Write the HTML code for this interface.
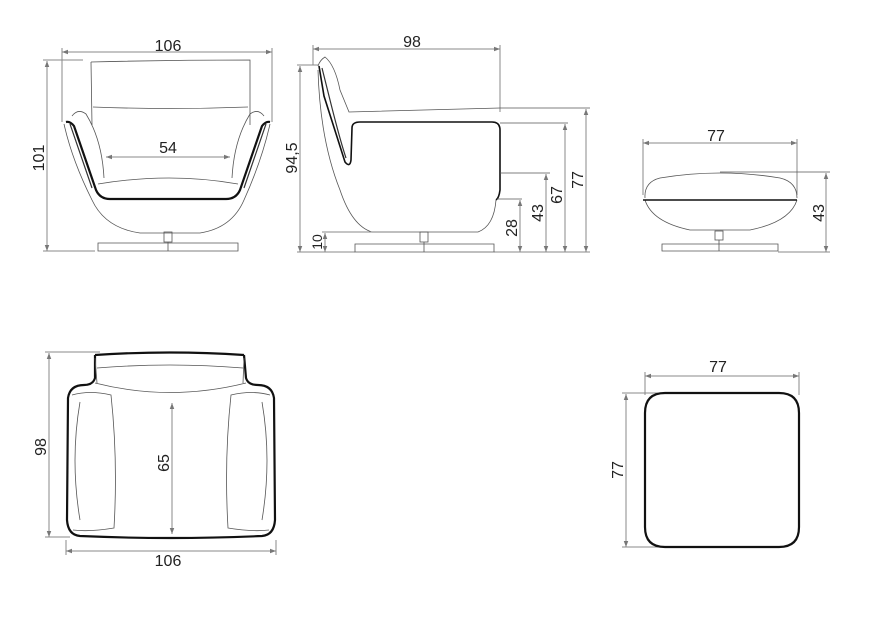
<!DOCTYPE html>
<html><head><meta charset="utf-8"><style>
html,body{margin:0;padding:0;background:#fff;}
svg{display:block;}
text{font-family:"Liberation Sans",sans-serif;font-size:16px;fill:#222;}
.d{stroke:#888;stroke-width:1;fill:none;}
.t{stroke:#555;stroke-width:0.8;fill:none;}
.k{stroke:#111;stroke-width:2.2;fill:none;}
.m{stroke:#333;stroke-width:1.2;fill:none;}
</style></head><body>
<svg width="879" height="630" viewBox="0 0 879 630" xmlns="http://www.w3.org/2000/svg">
<defs>
<marker id="a" viewBox="0 0 8 6" refX="8" refY="3" markerWidth="6" markerHeight="5" orient="auto-start-reverse"><path d="M0,0 L8,3 L0,6z" fill="#777"/></marker>
</defs>

<!-- FRONT VIEW -->
<line class="d" x1="62" y1="52" x2="272" y2="52" marker-start="url(#a)" marker-end="url(#a)"/>
<line class="d" x1="62" y1="48" x2="62" y2="122"/>
<line class="d" x1="272" y1="48" x2="272" y2="122"/>
<text x="168" y="51" text-anchor="middle">106</text>
<line class="d" x1="47" y1="61" x2="47" y2="251" marker-start="url(#a)" marker-end="url(#a)"/>
<line class="d" x1="43" y1="60" x2="83" y2="60"/>
<line class="d" x1="43" y1="251" x2="95" y2="251"/>
<text transform="translate(44,158) rotate(-90)" text-anchor="middle">101</text>
<path class="t" d="M91,62 Q170,60 250,60 L250,125 M91,62 L92,125"/>
<path class="t" d="M93,107 Q170,110 248,107"/>
<path class="t" d="M72,116 Q78,108 86,114 Q102,140 104,178"/>
<path class="t" d="M264,116 Q258,108 250,114 Q234,140 232,178"/>
<path class="t" d="M64,124 Q72,160 92,200 Q105,228 140,233 L200,233 Q232,228 244,200 Q262,160 270,124"/>
<path class="k" d="M66,122 Q70,121 74,126 L96,190 Q100,199 110,199 L226,199 Q236,199 240,190 L262,126 Q266,121 270,122"/>
<path class="m" d="M70,124 L92,188 M266,124 L244,188"/>
<path class="t" d="M98,184 Q170,172 238,184"/>
<line class="d" x1="106" y1="157" x2="230" y2="157" marker-start="url(#a)" marker-end="url(#a)"/>
<text x="168" y="153" text-anchor="middle">54</text>
<rect x="164" y="232" width="8" height="10" class="t"/>
<path class="t" d="M98,243 L238,243 L238,251 L98,251 Z M168,242 L168,251"/>

<!-- SIDE VIEW -->
<line class="d" x1="313" y1="49" x2="500" y2="49" marker-start="url(#a)" marker-end="url(#a)"/>
<line class="d" x1="313" y1="45" x2="313" y2="65"/>
<line class="d" x1="500" y1="45" x2="500" y2="112"/>
<text x="412" y="47" text-anchor="middle">98</text>
<line class="d" x1="300" y1="66" x2="300" y2="252" marker-start="url(#a)" marker-end="url(#a)"/>
<line class="d" x1="297" y1="65" x2="318" y2="65"/>
<line class="d" x1="297" y1="252" x2="355" y2="252"/>
<text transform="translate(297,158) rotate(-90)" text-anchor="middle">94,5</text>
<path class="t" d="M318,66 Q320,60 325,57 Q335,65 340,90 L349,112 Q425,110 500,108"/>
<path class="k" style="stroke-width:1.6" d="M319,66 L324,96 Q338,140 345,162 Q350,168 351,160 L352,128 Q352,122 360,122 L492,122 Q500,122 500,130 L500,190 Q499,198 496,200"/>
<path class="m" d="M322,68 L330,100 Q340,140 346,158"/>
<path class="t" d="M318,70 Q320,140 340,190 Q352,226 372,232 L478,232 Q494,226 496,200"/>
<line class="t" x1="500" y1="173" x2="550" y2="173"/>
<line class="t" x1="497" y1="199" x2="522" y2="199"/>
<line class="t" x1="500" y1="108" x2="590" y2="108"/>
<line class="t" x1="500" y1="123" x2="568" y2="123"/>
<line class="d" x1="586" y1="109" x2="586" y2="252" marker-start="url(#a)" marker-end="url(#a)"/>
<line class="d" x1="565" y1="124" x2="565" y2="252" marker-start="url(#a)" marker-end="url(#a)"/>
<line class="d" x1="546" y1="174" x2="546" y2="252" marker-start="url(#a)" marker-end="url(#a)"/>
<line class="d" x1="520" y1="200" x2="520" y2="252" marker-start="url(#a)" marker-end="url(#a)"/>
<line class="d" x1="494" y1="252" x2="590" y2="252"/>
<text transform="translate(583,180) rotate(-90)" text-anchor="middle">77</text>
<text transform="translate(562,195) rotate(-90)" text-anchor="middle">67</text>
<text transform="translate(543,213) rotate(-90)" text-anchor="middle">43</text>
<text transform="translate(517,228) rotate(-90)" text-anchor="middle">28</text>
<line class="d" x1="325" y1="233" x2="325" y2="252" marker-start="url(#a)" marker-end="url(#a)"/>
<line class="d" x1="322" y1="232" x2="372" y2="232"/>
<text transform="translate(322,242) rotate(-90)" text-anchor="middle" style="font-size:14px">10</text>
<rect x="420" y="232" width="8" height="10" class="t"/>
<path class="t" d="M355,244 L494,244 L494,252 L355,252 Z M424,242 L424,252"/>

<!-- OTTOMAN SIDE -->
<line class="d" x1="643" y1="143" x2="797" y2="143" marker-start="url(#a)" marker-end="url(#a)"/>
<line class="d" x1="643" y1="139" x2="643" y2="195"/>
<line class="d" x1="797" y1="139" x2="797" y2="195"/>
<text x="716" y="141" text-anchor="middle">77</text>
<path class="t" d="M645,198 Q644,182 660,178 Q720,168 780,178 Q797,182 797,198"/>
<path class="t" d="M645,200 Q652,222 690,230 L750,230 Q790,222 797,200"/>
<line class="k" x1="643" y1="200" x2="797" y2="200" style="stroke-width:1.4"/>
<line class="t" x1="720" y1="172" x2="830" y2="172"/>
<line class="d" x1="826" y1="173" x2="826" y2="252" marker-start="url(#a)" marker-end="url(#a)"/>
<line class="d" x1="778" y1="252" x2="830" y2="252"/>
<text transform="translate(824,213) rotate(-90)" text-anchor="middle">43</text>
<rect x="715" y="231" width="8" height="9" class="t"/>
<path class="t" d="M662,244 L778,244 L778,251 L662,251 Z M719,240 L719,251"/>

<!-- TOP VIEW -->
<line class="d" x1="49" y1="353" x2="49" y2="537" marker-start="url(#a)" marker-end="url(#a)"/>
<line class="d" x1="45" y1="352" x2="100" y2="352"/>
<line class="d" x1="45" y1="537" x2="70" y2="537"/>
<text transform="translate(46,447) rotate(-90)" text-anchor="middle">98</text>
<line class="d" x1="66" y1="551" x2="276" y2="551" marker-start="url(#a)" marker-end="url(#a)"/>
<line class="d" x1="66" y1="540" x2="66" y2="555"/>
<line class="d" x1="276" y1="540" x2="276" y2="555"/>
<text x="168" y="566" text-anchor="middle">106</text>
<path class="k" d="M95,355 Q170,350 244,355 M95,355 L95,378 Q93,385 84,385 Q70,385 68,398 L67,520 Q68,535 80,536 Q170,540 262,536 Q274,535 275,520 L274,398 Q272,385 258,385 Q248,385 246,378 L244,355"/>
<path class="t" d="M95,358 L97,383 M244,358 L243,383 M97,368 Q170,362 243,368"/>
<path class="t" d="M95,383 Q170,402 246,383"/>
<path class="t" d="M72,395 Q90,390 111,395 Q118,460 114,528 Q90,532 73,530"/>
<path class="t" d="M270,395 Q252,390 231,395 Q224,460 228,528 Q252,532 269,530"/>
<path class="t" d="M80,402 Q70,460 80,520 M262,402 Q272,460 262,520"/>
<line class="d" x1="172" y1="403" x2="172" y2="534" marker-start="url(#a)" marker-end="url(#a)"/>
<text transform="translate(169,463) rotate(-90)" text-anchor="middle">65</text>

<!-- OTTOMAN TOP -->
<line class="d" x1="645" y1="376" x2="799" y2="376" marker-start="url(#a)" marker-end="url(#a)"/>
<line class="d" x1="645" y1="372" x2="645" y2="395"/>
<line class="d" x1="799" y1="372" x2="799" y2="395"/>
<text x="718" y="372" text-anchor="middle">77</text>
<line class="d" x1="626" y1="394" x2="626" y2="547" marker-start="url(#a)" marker-end="url(#a)"/>
<line class="d" x1="622" y1="393" x2="660" y2="393"/>
<line class="d" x1="622" y1="547" x2="660" y2="547"/>
<text transform="translate(623,470) rotate(-90)" text-anchor="middle">77</text>
<path class="k" d="M665,393 L779,393 Q799,393 799,413 L799,527 Q799,547 779,547 L665,547 Q645,547 645,527 L645,413 Q645,393 665,393 Z"/>
</svg>
</body></html>
